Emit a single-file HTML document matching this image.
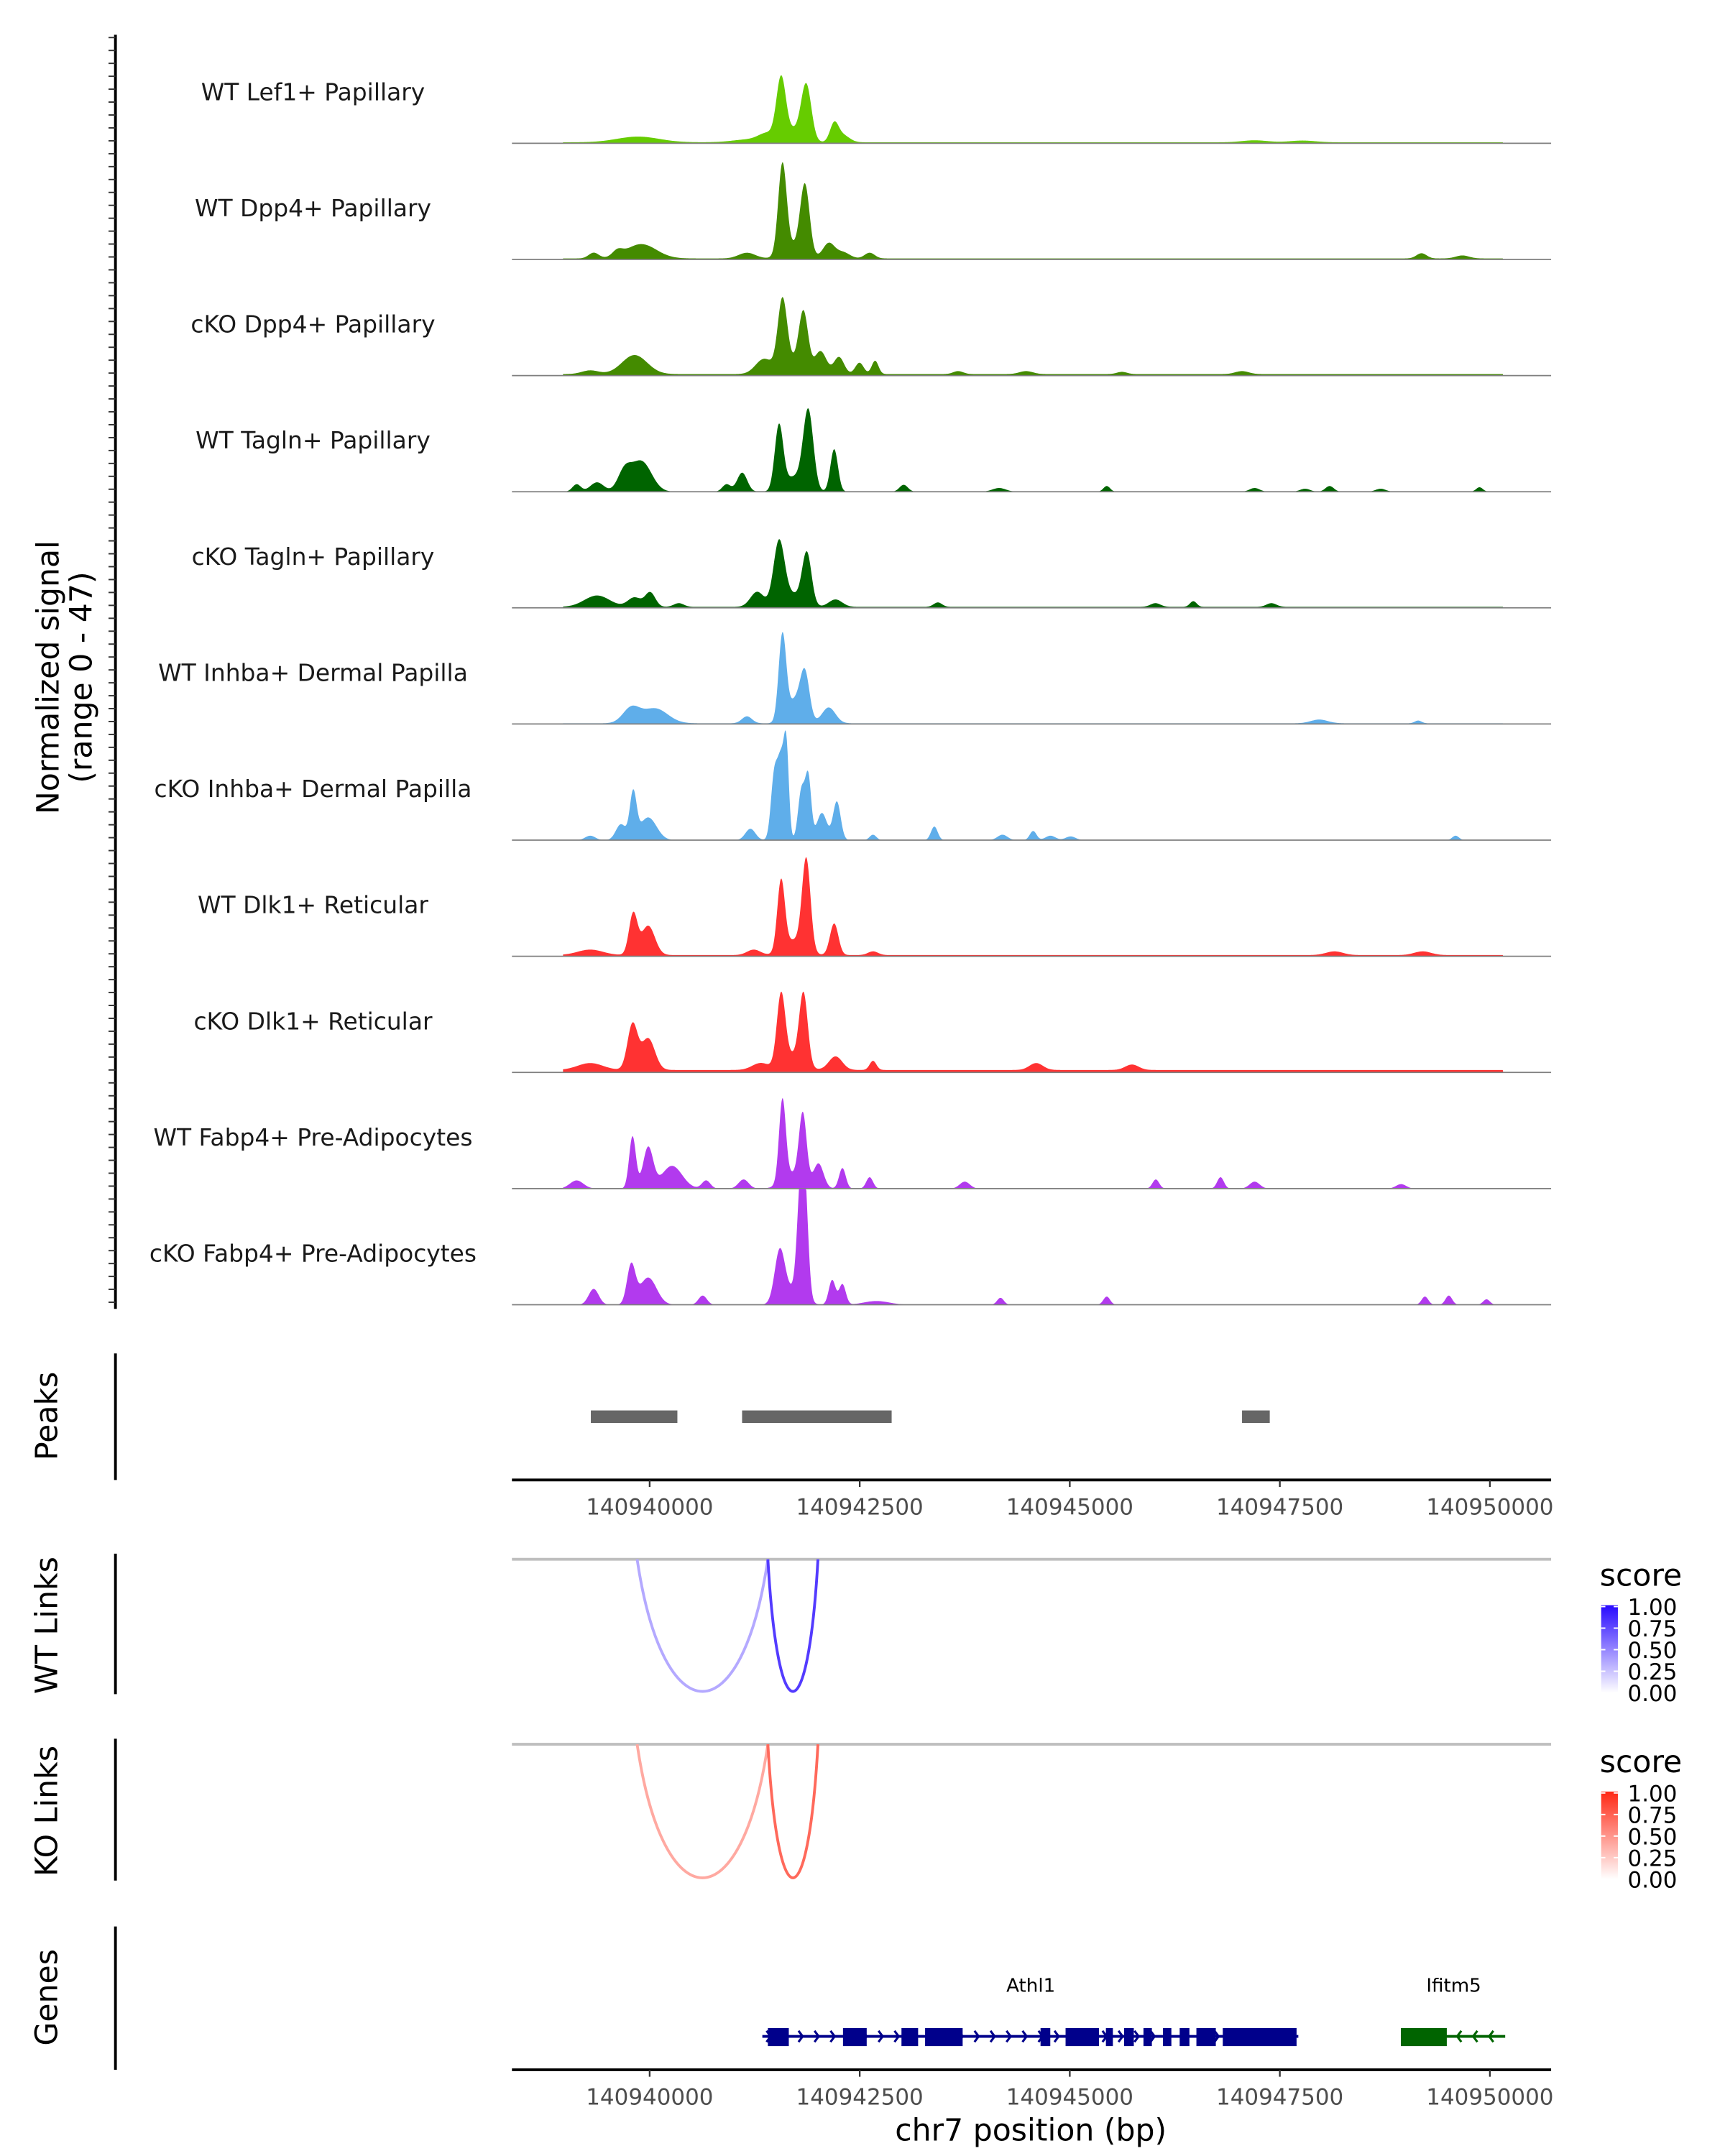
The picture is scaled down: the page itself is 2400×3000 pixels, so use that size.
<!DOCTYPE html>
<html><head><meta charset="utf-8"><style>
html,body{margin:0;padding:0;background:#fff}
svg{display:block}
text{font-family:"DejaVu Sans","Liberation Sans",sans-serif}
</style></head><body>
<svg id="fig" xmlns="http://www.w3.org/2000/svg" width="2400" height="3000" viewBox="0 0 1240 1550">
<rect width="1240" height="1550" fill="#fff"/>
<g id="tracks"></g>
<g id="axes"></g>
</svg>
<script>
// ---------- data ----------
const trackNames = ["WT Lef1+ Papillary","WT Dpp4+ Papillary","cKO Dpp4+ Papillary","WT Tagln+ Papillary","cKO Tagln+ Papillary","WT Inhba+ Dermal Papilla","cKO Inhba+ Dermal Papilla","WT Dlk1+ Reticular","cKO Dlk1+ Reticular","WT Fabp4+ Pre-Adipocytes","cKO Fabp4+ Pre-Adipocytes"];
const trackColors = ["#66cc00","#448b00","#448b00","#006400","#006400","#5faeea","#5faeea","#ff3232","#ff3232","#b23aee","#b23aee"];
const signalRange = [0, 47];
const regionStart = 140938361, regionEnd = 140950728;
const dataStart = 140938969, dataEnd = 140950159;
const trackFloor = [0.4,0.4,0.6,0,0.4,0.3,0,0.5,1.0,0,0];
// peaks per track: position (bp), height (signal), width (bp sigma)
const peakPos = [
 [140941564,140941864,140941700,140942196,140942294,140941400,140939861,140941200,140947200,140947770],
 [140941580,140941848,140942131,140942618,140939900,140939334,140939617,140941158,140949186,140949673,140941720,140942300],
 [140941580,140941831,140942034,140942253,140942497,140942683,140939820,140939293,140941361,140943672,140944480,140945620,140947050,140941700],
 [140941539,140941888,140942196,140941101,140939901,140939699,140939374,140939131,140940915,140943023,140944159,140945440,140947200,140948092,140949876,140947800,140948700,140941720],
 [140941539,140941871,140941280,140942212,140939374,140940007,140939820,140940347,140943430,140946470,140946020,140947400,140941700],
 [140941580,140941848,140941726,140942131,140939780,140940064,140941158,140947970,140949146],
 [140941564,140941628,140941483,140941807,140941888,140942228,140942050,140939804,140939982,140939658,140941199,140943388,140944564,140944199,140944770,140945010,140949592,140939293,140942658],
 [140941864,140941564,140942196,140939804,140939982,140939293,140941239,140942658,140948150,140949200,140941720],
 [140941564,140941831,140942212,140939796,140939982,140939293,140941320,140942658,140944600,140945740,140941700],
 [140941580,140941823,140942010,140942294,140942618,140939796,140939982,140940266,140941118,140940672,140939131,140943750,140946024,140946794,140947200,140948943,140941700],
 [140941847,140941790,140941548,140942172,140942294,140939780,140939982,140939334,140940631,140942700,140944175,140945440,140949227,140949511,140949960,140941700]
];
const peakHeight = [
 [23.5,22,5,7,3,3,2.3,1.2,0.8,0.7],
 [36.4,27.6,6.1,2.3,5.8,2.3,2.3,2.3,2.1,1.2,5,2.5],
 [27.6,23,9.2,6.9,4.6,5.4,7.7,1.5,6.1,1.2,1.2,0.9,1.2,5],
 [25.7,31.5,17.2,7.7,12.3,7.7,3.8,3,3,2.8,1.5,2.3,1.5,2.3,1.8,1.2,1.2,6],
 [25.3,20.7,6.1,3,4.6,5.8,3.8,1.5,1.8,2.3,1.5,1.5,5],
 [35.2,19.3,9,6.4,6,6,2.8,1.5,1.1],
 [30.3,34,25.7,20.2,24.8,15.6,11,18.4,9.2,6.4,4.6,5.5,3.7,2.2,1.8,1.5,1.8,1.8,2.2],
 [36.7,28.4,12.8,16.5,11.9,2.2,2.2,1.5,1.5,1.5,6],
 [28.4,28.4,5.5,18.4,12.8,2.8,2.8,3.7,2.8,2.2,6],
 [33,27.5,10,8.3,4.6,21.1,16.5,9.2,3.7,3.3,3.3,2.8,3.7,4.6,2.8,1.8,6],
 [41.8,34.9,20.2,10,8.3,15.6,11,6.4,3.7,1.5,2.8,3.3,3.3,3.7,2.2,6]
];
const peakWidth = [
 [55,60,120,50,80,100,250,200,150,150],
 [50,55,70,60,180,60,60,100,60,80,120,80],
 [55,55,70,60,50,40,150,100,100,60,80,60,80,120],
 [50,60,45,60,120,80,80,50,50,50,80,40,60,50,40,60,60,120],
 [65,55,80,80,150,60,80,60,50,40,60,60,120],
 [45,55,80,80,100,150,60,100,40],
 [40,30,40,40,35,45,60,40,100,60,60,40,40,60,60,60,40,60,40],
 [50,45,50,50,80,150,80,60,100,100,120],
 [50,50,80,60,80,150,100,40,80,80,120],
 [40,45,60,40,40,40,60,120,60,50,80,60,40,40,60,60,120],
 [40,40,60,40,40,50,100,60,50,150,40,40,40,40,40,120]
];
const peakRegions = [[140939300,140940330],[140941100,140942880],[140947050,140947380]];
const xTicks = [140940000,140942500,140945000,140947500,140950000];
const wtLinkStart = [140939851,140941407], wtLinkEnd = [140941407,140942003], wtLinkScore = [0.35,0.8];
const koLinkStart = [140939851,140941407], koLinkEnd = [140941407,140942003], koLinkScore = [0.4,0.7];
const legendTicks = ["1.00","0.75","0.50","0.25","0.00"];
const athl1Exons = [[141407,141656],[142301,142583],[142997,143195],[143278,143725],[144652,144768],[144950,145348],[145430,145513],[145646,145762],[145877,145977],[146109,146209],[146308,146424],[146507,146738],[146821,147699]];
const athl1Span = [141341,147720];
const ifitm5Exons = [[148940,149487]];
const ifitm5Span = [148940,150182];

// ---------- scales ----------
const X0=368, X1=1115;
function xs(bp){ return 467 + (bp-140940000)/2500*151; }
const base0=103, trackStep=83.5;
function ys(v,k){ return base0 + k*trackStep - (v-signalRange[0])/(signalRange[1]-signalRange[0])*trackStep; }
const NS="http://www.w3.org/2000/svg";
function mk(tag, attrs, parent){ const e=document.createElementNS(NS,tag); for(const a in attrs) e.setAttribute(a,attrs[a]); (parent||document.getElementById('fig')).appendChild(e); return e; }
const tracksG=document.getElementById('tracks'), axesG=document.getElementById('axes');

// ---------- tracks ----------
trackNames.forEach((nm,k)=>{
  const g=mk('g',{},tracksG);
  
  
  let d='M'+xs(dataStart)+','+ys(0,k);
  for(let bp=dataStart; bp<=dataEnd; bp+=8){
    let v=trackFloor[k];
    for(let i=0;i<peakPos[k].length;i++){ const w=peakWidth[k][i]||60, h=peakHeight[k][i]||0; const z=(bp-peakPos[k][i])/w; v+=h*Math.exp(-0.5*z*z); }
    v=Math.min(v,signalRange[1]);
    d+=' L'+xs(bp).toFixed(2)+','+ys(v,k).toFixed(2);
  }
  d+=' L'+xs(dataEnd)+','+ys(0,k)+' Z';
  const p=mk('path',{d:d,fill:trackColors[k],stroke:'none'},g);
  
  
  const bl=mk('line',{x1:X0,x2:X1,y1:ys(0,k),y2:ys(0,k),stroke:'#7f7f7f','stroke-width':0.9},g);
  
  
  const t=mk('text',{x:225,y:ys(0,k)-31,'font-size':17,'text-anchor':'middle',fill:'#1a1a1a'},g);
  t.textContent=nm;
  
  
});
// left axis with ticks
const ax=mk('line',{x1:83,x2:83,y1:25,y2:941,stroke:'#000','stroke-width':2},axesG);


for(let y=27;y<=940;y+=trackStep/9){
  const tk=mk('line',{x1:78,x2:83,y1:y,y2:y,stroke:'#333','stroke-width':1},axesG);
  
  
}
function rotText(txt,x,y,size,name){
  const t=mk('text',{x:0,y:0,transform:'translate('+x+','+y+') rotate(-90)','font-size':size,'text-anchor':'middle',fill:'#000'},axesG);
  t.textContent=txt;
  
  
  return t;
}
rotText('Normalized signal',42,487,22,'y-axis-title');
rotText('(range 0 - 47)',66,487,22,'y-axis-range');

// ---------- peaks ----------
const pax=mk('line',{x1:83,x2:83,y1:973,y2:1064,stroke:'#000','stroke-width':2},axesG);


rotText('Peaks',41,1018,22,'peaks-title');
peakRegions.forEach(r=>{
  const rc=mk('rect',{x:xs(r[0]),y:1014,width:xs(r[1])-xs(r[0]),height:9,fill:'#666'},axesG);
  
  
});
function xAxis(y,name){
  const l=mk('line',{x1:X0,x2:X1,y1:y,y2:y,stroke:'#000','stroke-width':2},axesG);
  
  
  xTicks.forEach(v=>{
    const tk=mk('line',{x1:xs(v),x2:xs(v),y1:y,y2:y+5,stroke:'#333','stroke-width':1.2},axesG);
    
    
    const t=mk('text',{x:xs(v),y:y+25,'font-size':16,'text-anchor':'middle',fill:'#4d4d4d'},axesG);
    t.textContent=v;
    
    
  });
}
xAxis(1064,'peaks-x-axis');

// ---------- links ----------
function linkPanel(top,bottom,label,starts,ends,scores,col,legTop,nm){
  const a=mk('line',{x1:83,x2:83,y1:top-4,y2:bottom+2,stroke:'#000','stroke-width':2},axesG);
  
  
  rotText(label,41,(top+bottom)/2,22,nm+'-title');
  const gl=mk('line',{x1:X0,x2:X1,y1:top,y2:top,stroke:'#bebebe','stroke-width':2},axesG);
  
  
  starts.forEach((s,i)=>{
    const x1=xs(s),x2=xs(ends[i]),dep=(bottom-top)*4/3,w=x2-x1;
    const c=`rgb(${Math.round(255+(col[0]-255)*scores[i])},${Math.round(255+(col[1]-255)*scores[i])},${Math.round(255+(col[2]-255)*scores[i])})`;
    const p=mk('path',{d:`M${x1},${top} C${x1+w*0.2},${top+dep} ${x2-w*0.2},${top+dep} ${x2},${top}`,fill:'none',stroke:c,'stroke-width':2},axesG);
    
    
  });
  const st=mk('text',{x:1150,y:legTop,'font-size':22,fill:'#000'},axesG);
  st.textContent='score';
  
  
  const gid='grad'+nm;
  const defs=mk('defs',{},axesG);
  const lg=mk('linearGradient',{id:gid,x1:0,y1:1,x2:0,y2:0},defs);
  mk('stop',{offset:0,'stop-color':'#fff'},lg);
  mk('stop',{offset:1,'stop-color':`rgb(${col[0]},${col[1]},${col[2]})`},lg);
  const bar=mk('rect',{x:1151,y:legTop+14,width:12,height:63,fill:`url(#${gid})`},axesG);
  
  
  legendTicks.forEach((lab,i)=>{
    const yy=legTop+15+i*15.5;
    const t=mk('text',{x:1170,y:yy+6,'font-size':16,fill:'#000'},axesG);
    t.textContent=lab;
    
    
    mk('line',{x1:1151,x2:1154,y1:yy,y2:yy,stroke:'#fff','stroke-width':1},axesG);
    mk('line',{x1:1160,x2:1163,y1:yy,y2:yy,stroke:'#fff','stroke-width':1},axesG);
  });
}
linkPanel(1121,1216,'WT Links',wtLinkStart,wtLinkEnd,wtLinkScore,[40,10,255],1140,'wt-links');
linkPanel(1254,1350,'KO Links',koLinkStart,koLinkEnd,koLinkScore,[255,40,20],1274,'ko-links');

// ---------- genes ----------
const gax=mk('line',{x1:83,x2:83,y1:1385,y2:1488,stroke:'#000','stroke-width':2},axesG);


rotText('Genes',41,1436,22,'genes-title');
function gene(name,span,exons,col,dir){
  const g=mk('g',{},axesG);
  
  
  const off=140800000;
  const a=xs(off+span[0]), b=xs(off+span[1]);
  mk('line',{x1:a,x2:b,y1:1464,y2:1464,stroke:col,'stroke-width':2},g);
  for(let x=a+6;x<b-2;x+=11.5){
    const dx=dir>0?3:-3;
    mk('polyline',{points:`${x-dx},${1460} ${x},${1464} ${x-dx},${1468}`,fill:'none',stroke:col,'stroke-width':1.6},g);
  }
  exons.forEach(e=>{
    const r=mk('rect',{x:xs(off+e[0]),y:1458,width:xs(off+e[1])-xs(off+e[0]),height:13,fill:col},g);
    
    
  });
  const t=mk('text',{x:name==='Athl1'?741:1045,y:1432,'font-size':13.5,'text-anchor':'middle',fill:'#000'},g);
  t.textContent=name;
  
  
}
gene('Athl1',athl1Span,athl1Exons,'#00008b',1);
gene('Ifitm5',ifitm5Span,ifitm5Exons,'#006400',-1);
xAxis(1488,'genes-x-axis');
const xt=mk('text',{x:741,y:1539,'font-size':22,'text-anchor':'middle',fill:'#000'},axesG);
xt.textContent='chr7 position (bp)';


</script>
</body></html>
